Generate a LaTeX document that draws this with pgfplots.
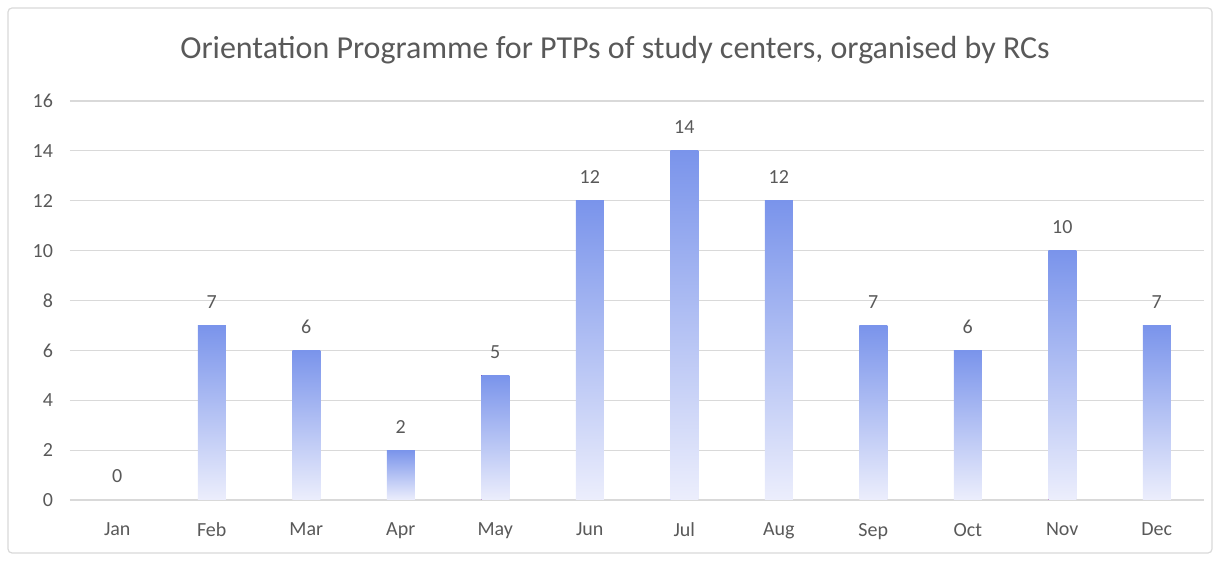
\documentclass[border=0pt]{standalone}
\usepackage{pgfplots}
\pgfplotsset{compat=1.18}
\usepackage{fontspec}
\setmainfont{Carlito}
\definecolor{txt}{HTML}{595959}
\definecolor{gridc}{HTML}{D9D9D9}
\definecolor{bartop}{RGB}{122,148,235}
\definecolor{barbot}{RGB}{236,238,252}
\begin{document}
\begin{tikzpicture}
\path[use as bounding box] (-35pt,-30.5pt) rectangle (575pt,250pt);
\draw[gridc, rounded corners=2pt, line width=0.6pt] (-31pt,-26.5pt) rectangle (571pt,246pt);
\begin{axis}[
    at={(0,0)}, anchor=south west,
    scale only axis,
    width=567pt, height=199.5pt,
    ybar, bar width=14pt, bar shift=0pt,
    xmin=-0.5, xmax=11.5,
    ymin=0, ymax=16,
    ytick={0,2,...,16},
    xtick={0,...,11},
    xticklabels={Jan,Feb,Mar,Apr,May,Jun,Jul,Aug,Sep,Oct,Nov,Dec},
    axis x line*=bottom, axis y line*=left,
    y axis line style={draw=none},
    x axis line style={gridc, line width=0.6pt},
    major tick length=0pt,
    ymajorgrids, major grid style={gridc, line width=0.6pt},
    tick label style={txt, font=\fontsize{10}{12}\selectfont},
    x tick label style={yshift=-8pt},
    y tick label style={xshift=-5pt},
    /pgf/number format/assume math mode=true,
    nodes near coords,
    nodes near coords style={txt, font=\fontsize{10}{12}\selectfont, yshift=5pt},
    clip=false,
    every axis plot/.append style={draw=none, top color=bartop, bottom color=barbot},
]
% one plot per month so that each bar gets its own gradient
\addplot[fill=none, top color=white, bottom color=white, draw=none] coordinates {(0,0)};
\addplot coordinates {(1,7)};
\addplot coordinates {(2,6)};
\addplot coordinates {(3,2)};
\addplot coordinates {(4,5)};
\addplot coordinates {(5,12)};
\addplot coordinates {(6,14)};
\addplot coordinates {(7,12)};
\addplot coordinates {(8,7)};
\addplot coordinates {(9,6)};
\addplot coordinates {(10,10)};
\addplot coordinates {(11,7)};
\end{axis}
\node[txt, font=\fontsize{16}{18}\selectfont] at (272.5pt,225pt)
    {Orientation Programme for PTPs of study centers, organised by RCs};
\end{tikzpicture}
\end{document}
